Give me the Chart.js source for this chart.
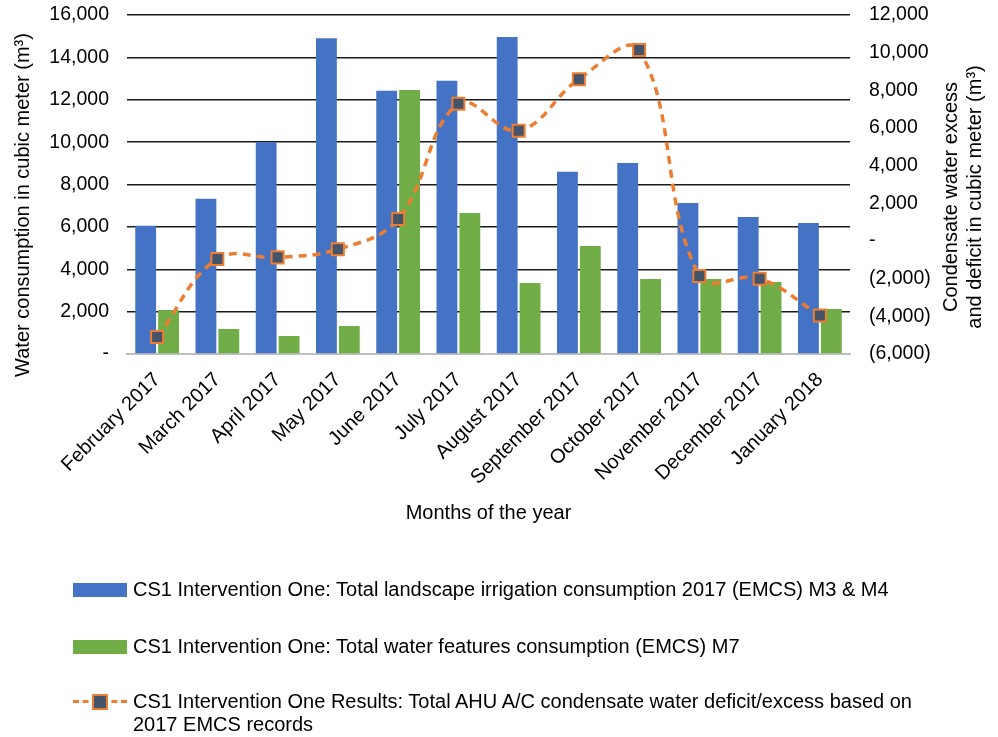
<!DOCTYPE html>
<html>
<head>
<meta charset="utf-8">
<script src="https://cdn.jsdelivr.net/npm/chart.js@4.4.1/dist/chart.umd.min.js"></script>
<style>
  html, body { margin: 0; padding: 0; background: #fff; }
  #wrap { position: relative; width: 998px; height: 737px; overflow: hidden; }
  #chart { position: absolute; left: 0; top: 0; }
  .lg { position: absolute; left: 0; font: 20px "Liberation Sans", Arial, sans-serif; color: #000; }
  .lg .sw { position: absolute; left: 73px; width: 54px; height: 14px; }
  .lg .tx { position: absolute; left: 133px; white-space: nowrap; line-height: 23px; }
  .lg .dash { position: absolute; left: 73px; width: 54px; height: 0; border-top: 3px dashed #ED7D31; }
  .lg .mk { position: absolute; left: 92px; width: 12px; height: 12px; background: #44546A; border: 2px solid #ED7D31; }
</style>
</head>
<body>
<div id="wrap">
  <canvas id="chart" width="998" height="737"></canvas>

  <div class="lg" style="top:590px">
    <div class="sw" style="top:-7px;background:#4472C4"></div>
    <div class="tx" style="top:-12px">CS1 Intervention One: Total landscape irrigation consumption 2017 (EMCS) M3 &amp; M4</div>
  </div>
  <div class="lg" style="top:647px">
    <div class="sw" style="top:-7px;background:#70AD47"></div>
    <div class="tx" style="top:-12px">CS1 Intervention One: Total water features consumption (EMCS) M7</div>
  </div>
  <div class="lg" style="top:702px">
    <div class="dash" style="top:-2px"></div>
    <div class="mk" style="top:-8px"></div>
    <div class="tx" style="top:-12px">CS1 Intervention One Results: Total AHU A/C condensate water deficit/excess based on<br>2017 EMCS records</div>
  </div>
</div>

<script>
// --- Daten ---
const months = [
  "February 2017", "March 2017", "April 2017", "May 2017", "June 2017", "July 2017",
  "August 2017", "September 2017", "October 2017", "November 2017", "December 2017", "January 2018"
];
const irrigation    = [6050, 7330, 10000, 14900, 12420, 12900, 14960, 8600, 9020, 7130, 6470, 6180];
const waterFeatures = [2080, 1180, 850, 1320, 12460, 6650, 3350, 5100, 3540, 3540, 3400, 2120];
const condensate    = [-5100, -950, -870, -440, 1170, 7290, 5860, 8590, 10140, -1860, -2000, -3950];

const leftRange  = [0, 16000, 2000];     // min, max, step
const rightRange = [-6000, 12000, 2000];

const seriesNames = [
  "CS1 Intervention One: Total landscape irrigation consumption 2017 (EMCS) M3 & M4",
  "CS1 Intervention One: Total water features consumption (EMCS) M7",
  "CS1 Intervention One Results: Total AHU A/C condensate water deficit/excess based on 2017 EMCS records"
];
const xTitle = "Months of the year";
const leftTitle = "Water consumption in cubic meter (m\u00b3)";
const rightTitle = ["Condensate water excess", "and deficit in cubic meter (m\u00b3)"];

const FONT = '"Liberation Sans", Arial, sans-serif';

function fmt(v) {
  if (v === 0) return "-";
  const s = Math.abs(v).toLocaleString("en-US");
  return v < 0 ? "(" + s + ")" : s;
}

// y-Achsen: feste Breite, Plotbereich oben bei 15px
function fixY(width) {
  return scale => {
    scale.width = width;
    scale.paddingTop = 15;
    scale.paddingBottom = 0;
  };
}

// Achsentitel selbst zeichnen (rechter Titel liest von unten nach oben)
const axisTitles = {
  id: "axisTitles",
  afterDraw(chart) {
    const ctx = chart.ctx;
    const area = chart.chartArea;
    ctx.save();
    ctx.fillStyle = "#000";
    ctx.font = "20px " + FONT;
    ctx.textAlign = "center";
    ctx.textBaseline = "middle";

    ctx.fillText(xTitle, (area.left + area.right) / 2, 513);

    ctx.save();
    ctx.translate(23, 205);
    ctx.rotate(-Math.PI / 2);
    ctx.fillText(leftTitle, 0, 0);
    ctx.restore();

    rightTitle.forEach((line, i) => {
      ctx.save();
      ctx.translate(951 + i * 24, 197);
      ctx.rotate(-Math.PI / 2);
      ctx.fillText(line, 0, 0);
      ctx.restore();
    });
    ctx.restore();
  }
};

new Chart(document.getElementById("chart"), {
  type: "bar",
  data: {
    labels: months,
    datasets: [
      {
        label: seriesNames[0],
        data: irrigation,
        backgroundColor: "#4472C4",
        yAxisID: "y",
        order: 1,
        categoryPercentage: 0.76,
        barPercentage: 0.91
      },
      {
        label: seriesNames[1],
        data: waterFeatures,
        backgroundColor: "#70AD47",
        yAxisID: "y",
        order: 1,
        categoryPercentage: 0.76,
        barPercentage: 0.91
      },
      {
        type: "line",
        label: seriesNames[2],
        data: condensate,
        yAxisID: "y1",
        order: 0,
        borderColor: "#ED7D31",
        borderWidth: 3.5,
        borderDash: [8, 6],
        tension: 0.4,
        fill: false,
        pointStyle: "rect",
        pointRadius: 8.5,
        pointBackgroundColor: "#44546A",
        pointBorderColor: "#ED7D31",
        pointBorderWidth: 2
      }
    ]
  },
  options: {
    responsive: false,
    animation: false,
    layout: { padding: 0 },
    plugins: {
      legend: { display: false },
      tooltip: { enabled: false }
    },
    scales: {
      x: {
        grid: { display: false },
        border: { display: true, color: "#BFBFBF", width: 2 },
        ticks: {
          color: "#000",
          font: { family: FONT, size: 20 },
          minRotation: 45,
          maxRotation: 45,
          padding: 6
        },
        afterFit(scale) { scale.height = 383; }
      },
      y: {
        position: "left",
        min: leftRange[0],
        max: leftRange[1],
        border: { display: false },
        grid: {
          drawTicks: false,
          lineWidth: 1.5,
          color: ctx => (ctx.tick && ctx.tick.value === 0) ? "rgba(0,0,0,0)" : "#1a1a1a"
        },
        ticks: {
          stepSize: leftRange[2],
          color: "#000",
          font: { family: FONT, size: 19.5 },
          padding: 18,
          callback: v => fmt(v)
        },
        afterFit: fixY(127)
      },
      y1: {
        position: "right",
        min: rightRange[0],
        max: rightRange[1],
        border: { display: false },
        grid: { display: false, drawTicks: false },
        ticks: {
          stepSize: rightRange[2],
          color: "#000",
          font: { family: FONT, size: 19.5 },
          padding: 19,
          callback: v => fmt(v)
        },
        afterFit: fixY(148)
      }
    }
  },
  plugins: [axisTitles]
});
</script>
</body>
</html>
